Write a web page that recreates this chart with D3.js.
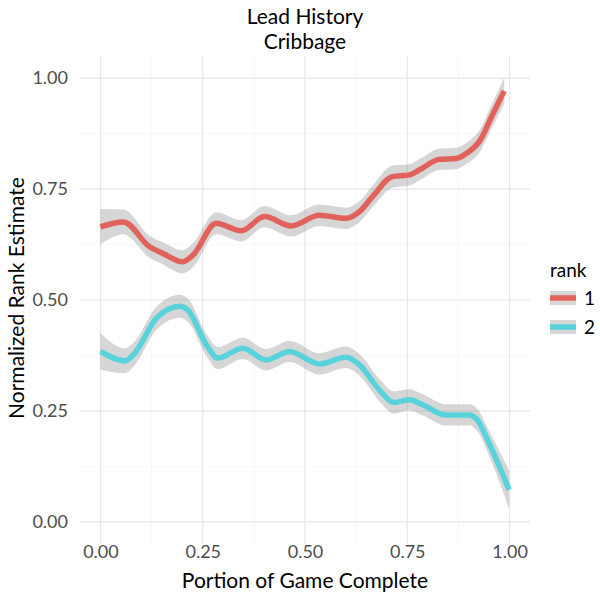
<!DOCTYPE html>
<html>
<head>
<meta charset="utf-8">
<script src="https://cdn.jsdelivr.net/npm/d3@7"></script>
<style>
body { margin: 0; background: #fff; }
text { font-family: Lato, "Open Sans", sans-serif; }
</style>
</head>
<body>
<div id="chart"></div>
<script>
// data: portion of game (x), rank estimate (y), band half width (se)
var rank1X = [0, 0.056, 0.12, 0.153, 0.2, 0.226, 0.283, 0.344, 0.401, 0.466, 0.535, 0.6, 0.633, 0.665, 0.714, 0.755, 0.779, 0.828, 0.869, 0.897, 0.926, 0.958, 0.987];
var rank1Y = [0.665, 0.676, 0.62, 0.605, 0.586, 0.601, 0.673, 0.656, 0.688, 0.667, 0.691, 0.684, 0.699, 0.733, 0.778, 0.782, 0.793, 0.817, 0.819, 0.832, 0.857, 0.917, 0.971];
var rank1Se = [0.04, 0.028, 0.025, 0.025, 0.026, 0.027, 0.025, 0.024, 0.024, 0.024, 0.024, 0.024, 0.024, 0.024, 0.025, 0.024, 0.024, 0.024, 0.024, 0.024, 0.025, 0.027, 0.03];

var rank2X = [0, 0.06, 0.08, 0.137, 0.194, 0.214, 0.259, 0.287, 0.348, 0.405, 0.462, 0.535, 0.6, 0.633, 0.682, 0.718, 0.755, 0.787, 0.844, 0.901, 0.921, 0.95, 0.999];
var rank2Y = [0.384, 0.363, 0.376, 0.459, 0.486, 0.477, 0.399, 0.369, 0.391, 0.365, 0.384, 0.356, 0.371, 0.354, 0.297, 0.269, 0.275, 0.264, 0.241, 0.241, 0.23, 0.177, 0.072];
var rank2Se = [0.041, 0.028, 0.027, 0.026, 0.026, 0.026, 0.025, 0.025, 0.024, 0.024, 0.024, 0.024, 0.024, 0.024, 0.025, 0.025, 0.024, 0.024, 0.024, 0.024, 0.025, 0.028, 0.043];

var rankNames = ["1", "2"];
var rankColors = ["#e0625a", "#58d3dc"];
var xTicks = [0, 0.25, 0.5, 0.75, 1];
var yTicks = [0, 0.25, 0.5, 0.75, 1];
var minorTicks = [0.125, 0.375, 0.625, 0.875];

var W = 600, H = 600;
var margin = {top: 56, right: 70, bottom: 56, left: 80};

var svg = d3.select("#chart").append("svg")
  .attr("width", W).attr("height", H);

// scales with ggplot's 5% expansion
var x = d3.scaleLinear().domain([-0.05, 1.05]).range([margin.left, W - margin.right]);
var y = d3.scaleLinear().domain([-0.05, 1.05]).range([H - margin.bottom, margin.top]);

var grid = svg.append("g");
grid.selectAll(".minx").data(minorTicks).enter().append("line")
  .attr("x1", d => x(d)).attr("x2", d => x(d))
  .attr("y1", y.range()[0]).attr("y2", y.range()[1])
  .attr("stroke", "#f4f4f4").attr("stroke-width", 0.6);
grid.selectAll(".miny").data(minorTicks).enter().append("line")
  .attr("y1", d => y(d)).attr("y2", d => y(d))
  .attr("x1", x.range()[0]).attr("x2", x.range()[1])
  .attr("stroke", "#f4f4f4").attr("stroke-width", 0.6);
grid.selectAll(".majx").data(xTicks).enter().append("line")
  .attr("x1", d => x(d)).attr("x2", d => x(d))
  .attr("y1", y.range()[0]).attr("y2", y.range()[1])
  .attr("stroke", "#e6e6e6").attr("stroke-width", 1.2);
grid.selectAll(".majy").data(yTicks).enter().append("line")
  .attr("y1", d => y(d)).attr("y2", d => y(d))
  .attr("x1", x.range()[0]).attr("x2", x.range()[1])
  .attr("stroke", "#e6e6e6").attr("stroke-width", 1.2);

// axes
var xAxis = svg.append("g")
  .attr("transform", "translate(0," + (H - margin.bottom) + ")")
  .call(d3.axisBottom(x).tickValues(xTicks).tickFormat(d3.format(".2f")).tickSize(0).tickPadding(1));
var yAxis = svg.append("g")
  .attr("transform", "translate(" + margin.left + ",0)")
  .call(d3.axisLeft(y).tickValues(yTicks).tickFormat(d3.format(".2f")).tickSize(0).tickPadding(12));
[xAxis, yAxis].forEach(function(a) {
  a.select(".domain").remove();
  a.selectAll("text").attr("fill", "#4d4d4d").style("font-size", "18px");
});

var series = [
  {name: rankNames[0], color: rankColors[0], xs: rank1X, ys: rank1Y, se: rank1Se},
  {name: rankNames[1], color: rankColors[1], xs: rank2X, ys: rank2Y, se: rank2Se}
];

var area = d3.area()
  .x(d => x(d.x)).y0(d => y(d.y - d.se)).y1(d => y(d.y + d.se))
  .curve(d3.curveMonotoneX);
var line = d3.line()
  .x(d => x(d.x)).y(d => y(d.y))
  .curve(d3.curveMonotoneX);

series.forEach(function(s) {
  s.pts = s.xs.map((v, i) => ({x: v, y: s.ys[i], se: s.se[i]}));
});

svg.selectAll(".band").data(series).enter().append("path")
  .attr("d", d => area(d.pts))
  .attr("fill", "#999999").attr("fill-opacity", 0.4);
svg.selectAll(".line").data(series).enter().append("path")
  .attr("d", d => line(d.pts))
  .attr("fill", "none").attr("stroke", d => d.color).attr("stroke-width", 5.5);

// titles
svg.append("text").attr("x", 305).attr("y", 24).attr("text-anchor", "middle")
  .style("font-size", "21px").attr("fill", "#000").text("Lead History");
svg.append("text").attr("x", 305).attr("y", 49).attr("text-anchor", "middle")
  .style("font-size", "21px").attr("fill", "#000").text("Cribbage");
svg.append("text").attr("x", 305).attr("y", 588).attr("text-anchor", "middle")
  .style("font-size", "21px").attr("fill", "#000").text("Portion of Game Complete");
svg.append("text").attr("transform", "translate(24,298) rotate(-90)").attr("text-anchor", "middle")
  .style("font-size", "21px").attr("fill", "#000").text("Normalized Rank Estimate");

// legend
var legend = svg.append("g").attr("transform", "translate(550,0)");
legend.append("text").attr("x", 0).attr("y", 277).style("font-size", "19px").text("rank");
var key = legend.selectAll(".key").data(series).enter().append("g")
  .attr("transform", (d, i) => "translate(0," + (298 + i * 29) + ")");
key.append("rect").attr("x", 0).attr("y", -7).attr("width", 26).attr("height", 14)
  .attr("fill", "#999999").attr("fill-opacity", 0.4);
key.append("line").attr("x1", 0).attr("x2", 26).attr("y1", 0).attr("y2", 0)
  .attr("stroke", d => d.color).attr("stroke-width", 5.5);
key.append("text").attr("x", 34).attr("y", 0).attr("dy", "0.35em")
  .style("font-size", "19px").text(d => d.name);
</script>
</body>
</html>
